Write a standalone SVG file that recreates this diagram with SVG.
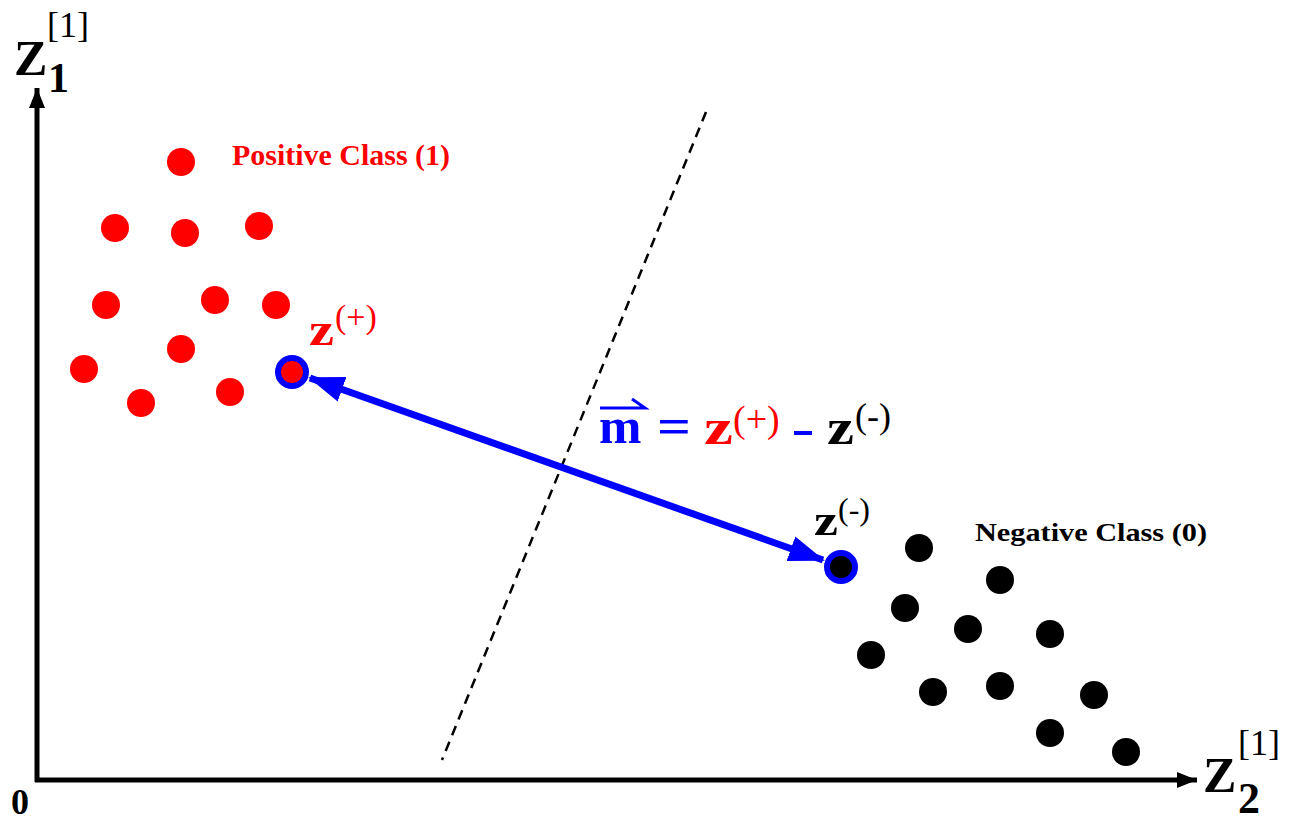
<svg xmlns="http://www.w3.org/2000/svg" width="1293" height="822" viewBox="0 0 1293 822">
<defs>
<style>
.t{font-family:"Liberation Serif","Times New Roman",serif;font-weight:bold}
.n{font-family:"Liberation Serif","Times New Roman",serif;font-weight:normal}
.r{fill:#ff0000}
.k{fill:#000}
.b{fill:#0000ff}
.pd{fill:#ff0000}
.nd{fill:#000}
</style>
<marker id="ax" viewBox="0 0 20 16" refX="20" refY="8" markerWidth="20" markerHeight="16" markerUnits="userSpaceOnUse" orient="auto"><path d="M0,0 L20,8 L0,16 z" fill="#000"/></marker>
<marker id="bh" viewBox="0 0 36 26" refX="34" refY="13" markerWidth="36" markerHeight="26" markerUnits="userSpaceOnUse" orient="auto-start-reverse"><path d="M0,0 L36,13 L0,26 z" fill="#0000ff"/></marker>
</defs>
<rect width="1293" height="822" fill="#fff"/>
<g id="connectors">
<line x1="37" y1="782" x2="37" y2="88" stroke="#000" stroke-width="5" marker-end="url(#ax)"/>
<line x1="35" y1="780" x2="1197" y2="780" stroke="#000" stroke-width="5" marker-end="url(#ax)"/>
<line x1="706" y1="112" x2="442" y2="760" stroke="#000" stroke-width="2.5" stroke-dasharray="10,7"/>
<line x1="310" y1="378" x2="823" y2="560" stroke="#0000ff" stroke-width="7" marker-start="url(#bh)" marker-end="url(#bh)"/>
</g>
<g id="axis-labels">
<text class="t k" x="14" y="75" font-size="50">Z</text>
<text class="t k" x="48" y="92" font-size="42">1</text>
<text class="n k" x="47" y="37" font-size="36">[1]</text>
<text class="t k" x="1203" y="792" font-size="50">Z</text>
<text class="t k" x="1238" y="813" font-size="44">2</text>
<text class="n k" x="1238" y="755" font-size="36">[1]</text>
<text class="t k" x="11" y="814" font-size="36">0</text>
</g>
<g id="positive-class">
<circle class="pd" cx="181" cy="162" r="14"/>
<circle class="pd" cx="115" cy="228" r="14"/>
<circle class="pd" cx="185" cy="233" r="14"/>
<circle class="pd" cx="259" cy="226" r="14"/>
<circle class="pd" cx="106" cy="305" r="14"/>
<circle class="pd" cx="215" cy="300" r="14"/>
<circle class="pd" cx="276" cy="305" r="14"/>
<circle class="pd" cx="181" cy="349" r="14"/>
<circle class="pd" cx="84" cy="369" r="14"/>
<circle class="pd" cx="141" cy="403" r="14"/>
<circle class="pd" cx="230" cy="392" r="14"/>
<text class="t r" x="232" y="165" font-size="29" textLength="218" lengthAdjust="spacingAndGlyphs">Positive Class (1)</text>
</g>
<g id="z-plus">
<circle cx="292" cy="372" r="14" fill="#ff0000" stroke="#0000ff" stroke-width="6"/>
<text class="t r" x="309" y="345" font-size="46" textLength="25" lengthAdjust="spacingAndGlyphs">z</text>
<text class="n r" x="335" y="328" font-size="34">(+)</text>
</g>
<g id="negative-class">
<circle class="nd" cx="919" cy="548" r="14"/>
<circle class="nd" cx="1000" cy="580" r="14"/>
<circle class="nd" cx="905" cy="608" r="14"/>
<circle class="nd" cx="968" cy="629" r="14"/>
<circle class="nd" cx="1050" cy="634" r="14"/>
<circle class="nd" cx="871" cy="655" r="14"/>
<circle class="nd" cx="933" cy="692" r="14"/>
<circle class="nd" cx="1000" cy="686" r="14"/>
<circle class="nd" cx="1094" cy="695" r="14"/>
<circle class="nd" cx="1050" cy="733" r="14"/>
<circle class="nd" cx="1126" cy="752" r="14"/>
<text class="t k" x="975" y="541" font-size="26" textLength="232" lengthAdjust="spacingAndGlyphs">Negative Class (0)</text>
</g>
<g id="z-minus">
<circle cx="841" cy="567" r="14" fill="#000" stroke="#0000ff" stroke-width="6"/>
<text class="t k" x="814" y="535" font-size="44" textLength="24" lengthAdjust="spacingAndGlyphs">z</text>
<text class="n k" x="838" y="520" font-size="32">(-)</text>
</g>
<g id="equation">
<text class="t b" x="599" y="443" font-size="51">m</text>
<path d="M600,408 L645,408 L632,399" stroke="#0000ff" stroke-width="3" fill="none"/>
<text class="t b" x="657" y="443" font-size="50" textLength="34" lengthAdjust="spacingAndGlyphs">=</text>
<text class="t r" x="704" y="444" font-size="50" textLength="29" lengthAdjust="spacingAndGlyphs">z</text>
<text class="n r" x="733" y="432" font-size="38">(+)</text>
<rect x="794" y="431" width="18" height="4" fill="#0000ff"/>
<text class="t k" x="827" y="444" font-size="50" textLength="27" lengthAdjust="spacingAndGlyphs">z</text>
<text class="n k" x="855" y="428" font-size="36">(-)</text>
</g>
</svg>
